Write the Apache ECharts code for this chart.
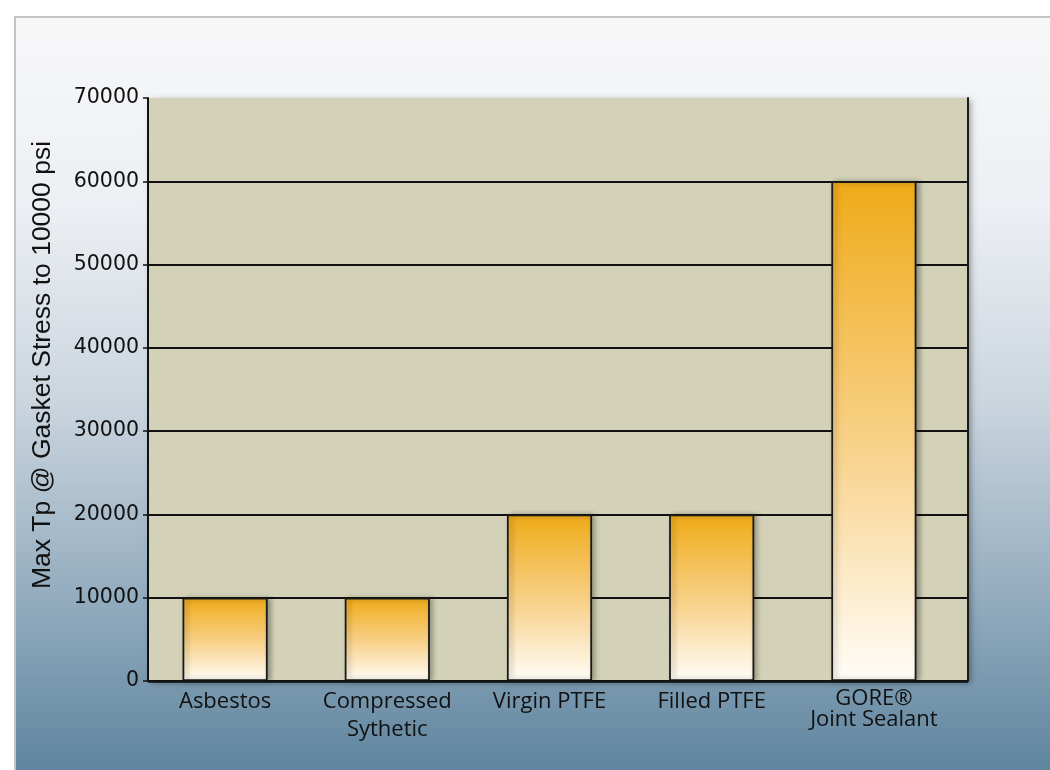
<!DOCTYPE html>
<html><head><meta charset="utf-8">
<script src="https://cdn.jsdelivr.net/npm/echarts@6/dist/echarts.min.js"></script>
<style>html,body{margin:0;padding:0;background:#fff}#c{width:1050px;height:770px}</style>
</head><body><div id="c"></div>
<script>
const categories = ['Asbestos', 'Compressed\nSythetic', 'Virgin PTFE', 'Filled PTFE', 'GORE®\nJoint Sealant'];
const values = [10000, 10000, 20000, 20000, 60000];
const yTicks = [0, 10000, 20000, 30000, 40000, 50000, 60000, 70000];
const yTitle = 'Max Tp @ Gasket Stress to 10000 psi';

const catData = categories.map((c, i) => i === 4
  ? {value: c, textStyle: {lineHeight: 21}}
  : {value: c});
const splitColors = yTicks.map((t, i) => i === yTicks.length - 1 ? 'rgba(0,0,0,0)' : '#111');

const chart = echarts.init(document.getElementById('c'));
chart.setOption({
  animation: false,
  backgroundColor: '#ffffff',
  graphic: [
    {type: 'rect', z: -10, shape: {x: 15, y: 17, width: 1040, height: 760},
     style: {fill: new echarts.graphic.LinearGradient(0, 0, 0, 1, [
       {offset: 0, color: '#f8f8f9'}, {offset: 0.25, color: '#eceff3'},
       {offset: 0.5, color: '#ccd6df'}, {offset: 0.78, color: '#8fa9bc'},
       {offset: 1, color: '#5d839d'}]),
       stroke: '#c4c4c4', lineWidth: 2}},
    {type: 'text', z: 10, x: 43, y: 365, rotation: Math.PI / 2,
     style: {text: yTitle, fill: '#111', font: '26.5px "Liberation Sans", Arial, sans-serif',
       align: 'center', verticalAlign: 'middle'}}
  ],
  grid: [
    {left: 148, right: 82, top: 98, bottom: 89, show: true,
      backgroundColor: '#d3d2b8', borderWidth: 0,
      shadowColor: 'rgba(0,0,0,0.35)', shadowBlur: 6, shadowOffsetX: 3, shadowOffsetY: 2},
    {left: 144, right: 95, top: 98, bottom: 89}
  ],
  xAxis: [
    {type: 'category', gridIndex: 0, data: categories, show: false},
    {type: 'category', gridIndex: 1, data: catData,
      axisLine: {show: false}, axisTick: {show: false},
      axisLabel: {color: '#111', fontSize: 22, fontFamily: '"Open Sans", sans-serif',
        margin: 7, lineHeight: 28, interval: 0}}
  ],
  yAxis: [
    {type: 'value', gridIndex: 0, min: 0, max: 70000, interval: 10000,
      axisLine: {show: true, lineStyle: {color: '#111', width: 2}},
      axisTick: {show: true, length: 5, lineStyle: {color: '#111', width: 1.5}},
      axisLabel: {color: '#111', fontSize: 20.5, fontFamily: '"DejaVu Sans", sans-serif', margin: 9,
        formatter: v => yTicks.includes(v) ? String(v) : ''},
      splitLine: {show: true, lineStyle: {color: splitColors, width: 2}}},
    {type: 'value', gridIndex: 0, min: 0, max: 70000, interval: 10000, position: 'right',
      axisLine: {show: true, lineStyle: {color: '#1a1a1a', width: 2}},
      axisTick: {show: false}, axisLabel: {show: false}, splitLine: {show: false}},
    {type: 'value', gridIndex: 1, min: 0, max: 70000, interval: 10000, show: false}
  ],
  series: [
    {type: 'line', xAxisIndex: 0, yAxisIndex: 0, data: [], silent: true,
      markLine: {silent: true, symbol: 'none', label: {show: false},
        lineStyle: {color: '#111', width: 2.5, type: 'solid'}, data: [{yAxis: 0}]}},
    {
    type: 'bar', xAxisIndex: 1, yAxisIndex: 2, data: values, barWidth: '52.5%', z: 3,
    itemStyle: {
      color: new echarts.graphic.LinearGradient(0, 0, 0, 1, [
        {offset: 0, color: '#efaa18'}, {offset: 0.55, color: '#f8d38e'}, {offset: 1, color: '#fffdf8'}]),
      borderColor: '#1a1a1a', borderWidth: 1.8,
      shadowColor: 'rgba(0,0,0,0.3)', shadowBlur: 5, shadowOffsetX: 3
    }
  }]
});
</script></body></html>
